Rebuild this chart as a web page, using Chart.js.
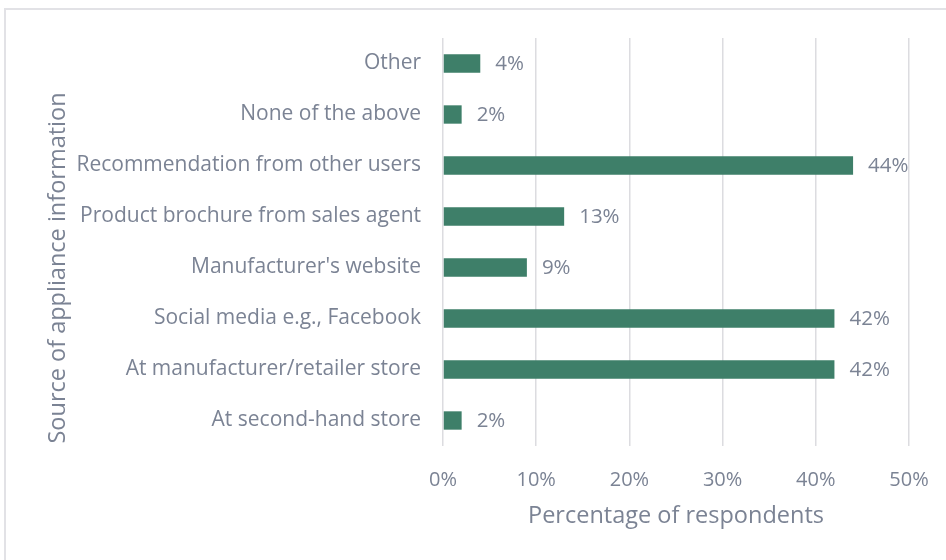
<!DOCTYPE html>
<html>
<head>
<meta charset="utf-8">
<script src="https://cdn.jsdelivr.net/npm/chart.js@4"></script>
<style>
  html, body { margin: 0; padding: 0; background: #fff; }
  #wrap { position: relative; width: 946px; height: 560px; overflow: hidden; }
  #frame { position: absolute; left: 4px; top: 8px; width: 960px; height: 580px;
           border-left: 2px solid #e2e2e6; border-top: 2px solid #e2e2e6; box-sizing: border-box; }
  canvas { position: absolute; left: 0; top: 0; }
</style>
</head>
<body>
<div id="wrap">
  <div id="frame"></div>
  <canvas id="srcChart" width="946" height="560"></canvas>
</div>
<script>
/* Where respondents get appliance information */

const sources = [
  'Other',
  'None of the above',
  'Recommendation from other users',
  'Product brochure from sales agent',
  "Manufacturer's website",
  'Social media e.g., Facebook',
  'At manufacturer/retailer store',
  'At second-hand store'
];
const shares = [4, 2, 44, 13, 9, 42, 42, 2];
const xTicks = [0, 10, 20, 30, 40, 50];
const yTitle = 'Source of appliance information';
const xTitle = 'Percentage of respondents';

const TEXT = '#7b8394';
const FONT = 'Open Sans';

// value labels just past the end of each bar
const barLabels = {
  id: 'barLabels',
  afterDatasetsDraw(chart) {
    const ctx = chart.ctx;
    const meta = chart.getDatasetMeta(0);
    ctx.save();
    ctx.font = '20.5px "' + FONT + '"';
    ctx.fillStyle = TEXT;
    ctx.textAlign = 'left';
    ctx.textBaseline = 'middle';
    meta.data.forEach((bar, i) => {
      ctx.fillText(shares[i] + '%', bar.x + 15, bar.y + 1);
    });
    ctx.restore();
  }
};

// vertical axis title, centred a bit lower than the plot
const sideTitle = {
  id: 'sideTitle',
  afterDraw(chart) {
    const ctx = chart.ctx;
    ctx.save();
    ctx.translate(58, 268);
    ctx.rotate(-Math.PI / 2);
    ctx.font = '23.5px "' + FONT + '"';
    ctx.fillStyle = TEXT;
    ctx.textAlign = 'center';
    ctx.textBaseline = 'middle';
    ctx.fillText(yTitle, 0, 0);
    ctx.restore();
  }
};

new Chart(document.getElementById('srcChart'), {
  type: 'bar',
  data: {
    labels: sources,
    datasets: [{
      data: shares,
      backgroundColor: '#3e7f69',
      barPercentage: 0.36,
      categoryPercentage: 1
    }]
  },
  plugins: [barLabels, sideTitle],
  options: {
    indexAxis: 'y',
    responsive: false,
    animation: false,
    layout: { padding: { top: 38, right: 37, bottom: 26, left: 38 } },
    plugins: { legend: { display: false }, tooltip: { enabled: false } },
    scales: {
      x: {
        min: 0, max: 50,
        afterBuildTicks: s => { s.ticks = xTicks.map(v => ({ value: v })); },
        afterFit: s => { s.height = 88; s.paddingLeft = 0; s.paddingRight = 0; },
        grid: { color: '#dcdce0', lineWidth: 1.5, drawTicks: false },
        border: { display: false },
        ticks: {
          padding: 22, color: TEXT, font: { family: FONT, size: 20 },
          callback: v => v + '%'
        },
        title: {
          display: true, text: xTitle, color: TEXT,
          font: { family: FONT, size: 23.5 }, padding: { top: 4, bottom: 4 }
        }
      },
      y: {
        afterFit: s => { s.width = 443 - 38; },
        grid: { display: false, drawTicks: false },
        border: { display: false },
        ticks: { padding: 22, color: TEXT, font: { family: FONT, size: 21 } }
      }
    }
  }
});
</script>
</body>
</html>
